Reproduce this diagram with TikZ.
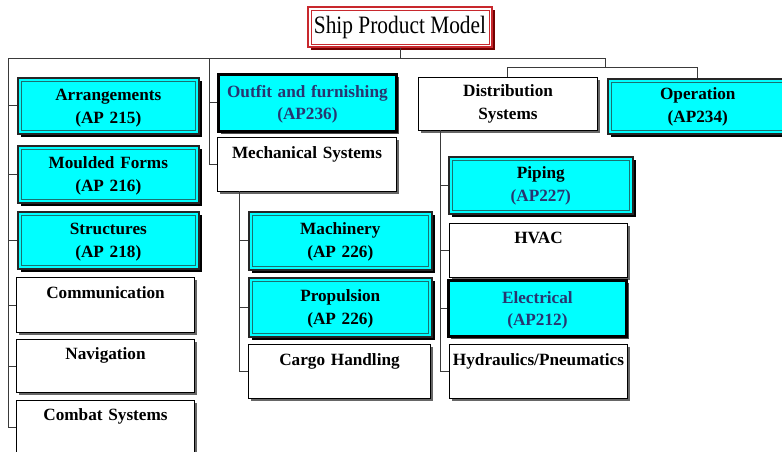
\documentclass[tikz,border=0pt]{standalone}
\usepackage{fontspec}
\setmainfont{Liberation Serif}
\usetikzlibrary{shadows}
\definecolor{boxcyan}{HTML}{00FFFF}
\definecolor{innerteal}{HTML}{1A7070}
\definecolor{navytext}{HTML}{283570}
\definecolor{titlered}{HTML}{C8282D}
\definecolor{linegray}{HTML}{3A3A3A}
\tikzset{
  base/.style={rectangle, anchor=north west, inner sep=0pt, align=center,
    font=\fontsize{17.2}{22.5}\selectfont\bfseries},
  cyanbox/.style={base, fill=boxcyan, draw=black!85, line width=1.6pt,
    drop shadow={shadow xshift=3pt, shadow yshift=-3pt, fill=black, opacity=1},
    path picture={\draw[innerteal, line width=1pt]
      ([shift={(3.2pt,-3.2pt)}]path picture bounding box.north west) rectangle
      ([shift={(-3.2pt,3.2pt)}]path picture bounding box.south east);}},
  thickbox/.style={base, fill=boxcyan, draw=black, line width=2.8pt,
    drop shadow={shadow xshift=3pt, shadow yshift=-3pt, fill=black!70, opacity=1}},
  whitebox/.style={base, fill=white, draw=black, line width=1pt,
    drop shadow={shadow xshift=2pt, shadow yshift=-2pt, fill=black!60, opacity=1}},
  titlebox/.style={rectangle, inner sep=0pt, fill=white, draw=titlered, line width=1.5pt,
    minimum width=184pt, minimum height=40pt,
    font=\fontsize{25}{28}\selectfont,
    drop shadow={shadow xshift=2.5pt, shadow yshift=-2.5pt, fill=red!45!black, opacity=1},
    path picture={\draw[titlered, line width=0.7pt]
      ([shift={(3pt,-3pt)}]path picture bounding box.north west) rectangle
      ([shift={(-3pt,3pt)}]path picture bounding box.south east);}},
  conn/.style={draw=linegray, line width=0.9pt},
  sz/.style n args={4}{minimum width=#1, text width=#1, minimum height=#2,
    text height=#3, text depth=#4}
}
\begin{document}
\begin{tikzpicture}[x=1pt, y=-1pt]
\useasboundingbox (0,0) rectangle (782,451);

% title
\node[titlebox] (title) at (400,27) {\scalebox{0.855}[1]{Ship Product Model}};

% left column
\node[cyanbox, sz={181pt}{56pt}{23pt}{33pt}] (arr) at (17,77) {Arrangements\\(AP 215)};
\node[cyanbox, sz={181pt}{57pt}{23pt}{34pt}] (mould) at (17,145) {Moulded Forms\\(AP 216)};
\node[cyanbox, sz={181pt}{57pt}{23pt}{34pt}] (struct) at (17,211) {Structures\\(AP 218)};
\node[whitebox, sz={178pt}{55pt}{21pt}{34pt}] (comm) at (16,277) {Communication};
\node[whitebox, sz={178pt}{53pt}{20pt}{33pt}] (nav) at (16,339) {Navigation};
\node[whitebox, sz={178pt}{56pt}{20pt}{36pt}] (combat) at (16,400) {Combat Systems};

% middle column
\node[thickbox, sz={178pt}{57pt}{23pt}{34pt}, text=navytext] (outfit) at (217,73) {Outfit and furnishing\\(AP236)};
\node[whitebox, sz={179pt}{54pt}{21pt}{33pt}] (mech) at (217,137) {Mechanical Systems};
\node[cyanbox, sz={183pt}{58pt}{23pt}{35pt}] (mach) at (248,211) {Machinery\\(AP 226)};
\node[cyanbox, sz={183pt}{59pt}{24pt}{35pt}] (prop) at (248,277) {Propulsion\\(AP 226)};
\node[whitebox, sz={182pt}{54pt}{21pt}{33pt}] (cargo) at (248,344) {Cargo Handling};

% right column
\node[whitebox, sz={179pt}{53pt}{19pt}{34pt}] (dist) at (418,77) {Distribution\\Systems};
\node[cyanbox, sz={180pt}{55pt}{21pt}{34pt}] (oper) at (607,78) {Operation\\(AP234)};
\node[cyanbox, sz={184pt}{57pt}{22pt}{35pt}] (pipe) at (448,156) {Piping\\\textcolor{navytext}{(AP227)}};
\node[whitebox, sz={178pt}{54pt}{20pt}{34pt}] (hvac) at (449,223) {HVAC};
\node[thickbox, sz={178pt}{56pt}{23pt}{33pt}, text=navytext] (elec) at (447,279) {Electrical\\(AP212)};
\node[whitebox, sz={178pt}{54pt}{21pt}{33pt}] (hyd) at (449,344) {Hydraulics/Pneumatics};

% junction coordinates
\coordinate (busL) at (8,58);
\coordinate (busR) at (605,58);
\coordinate (midV) at (209,58);
\coordinate (bus2) at (605,67);
\coordinate (bus2L) at (507,67);
\coordinate (bus2R) at (697,67);
\coordinate (mechV) at (239,191);
\coordinate (distV) at (440,130);
\coordinate (combatJ) at (8,427);

% connectors
\draw[conn] (title.south) -- (title.south |- busL);
\draw[conn] (busL) -- (busR) -- (bus2);
\draw[conn] (bus2L) -- (bus2R);
\draw[conn] (bus2L) -- (bus2L |- dist.north);
\draw[conn] (bus2R) -- (bus2R |- oper.north);

\draw[conn] (busL) |- (arr.west);
\draw[conn] (busL) |- (mould.west);
\draw[conn] (busL) |- (struct.west);
\draw[conn] (busL) |- (comm.west);
\draw[conn] (busL) |- (nav.west);
\draw[conn] (busL) -- (combatJ) -- (combatJ -| combat.west);

\draw[conn] (midV) |- (outfit.west);
\draw[conn] (midV) |- (mech.west);

\draw[conn] (mechV) |- (mach.west);
\draw[conn] (mechV) |- (prop.west);
\draw[conn] (mechV) |- (cargo.west);

\draw[conn] (distV) |- (pipe.west);
\draw[conn] (distV) |- (hvac.west);
\draw[conn] (distV) |- (elec.west);
\draw[conn] (distV) |- (hyd.west);
\end{tikzpicture}
\end{document}
